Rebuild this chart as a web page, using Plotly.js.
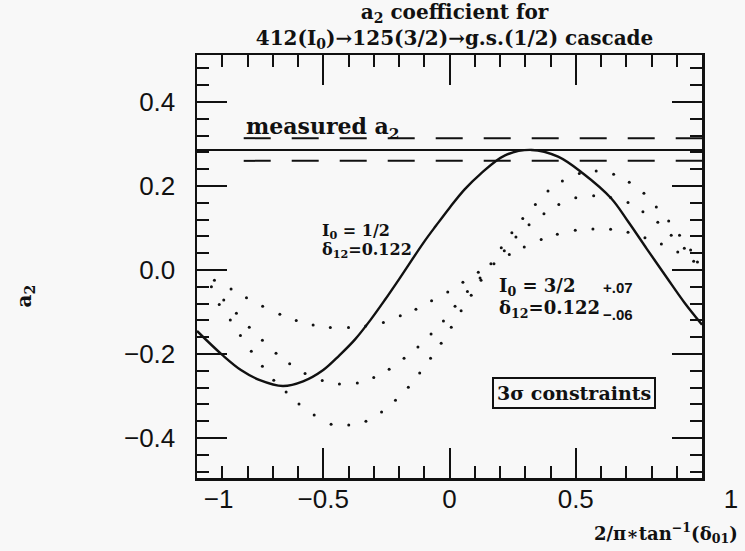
<!DOCTYPE html>
<html>
<head>
<meta charset="utf-8">
<script src="https://cdn.plot.ly/plotly-3.0.1.min.js"></script>
<style>body{margin:0;background:#f8f8f8}</style>
</head>
<body>
<div id="chart" style="width:745px;height:551px"></div>
<script>
// I0 = 1/2, delta12 = 0.122 (solid curve)
const solidX = [-1.0, -0.90, -0.826, -0.751, -0.66, -0.58, -0.50, -0.436, -0.374, -0.312, -0.257, -0.20, -0.102, -0.053, 0.0, 0.06, 0.121, 0.220, 0.325, 0.430, 0.529, 0.640, 0.708, 0.782, 0.863, 0.93, 1.0];
const solidY = [-0.145, -0.202, -0.238, -0.262, -0.276, -0.265, -0.238, -0.203, -0.165, -0.118, -0.072, -0.022, 0.066, 0.106, 0.148, 0.192, 0.228, 0.273, 0.286, 0.270, 0.230, 0.171, 0.115, 0.050, -0.020, -0.077, -0.130];

// I0 = 3/2, delta12 = 0.122 +.07 -.06 (dotted curves, one dot per point)
const dotAX = [-0.931, -0.865, -0.804, -0.740, -0.672, -0.607, -0.540, -0.472, -0.400, -0.332, -0.262, -0.195, -0.133, -0.071, -0.007, 0.053, 0.114, 0.176, 0.237, 0.296, 0.363, 0.427, 0.498, 0.568, 0.638, 0.707, 0.774, 0.839, 0.904, 0.967];
const dotAY = [-0.024, -0.045, -0.066, -0.086, -0.105, -0.120, -0.131, -0.137, -0.137, -0.133, -0.125, -0.109, -0.093, -0.073, -0.052, -0.029, -0.005, 0.015, 0.037, 0.055, 0.073, 0.085, 0.095, 0.098, 0.097, 0.090, 0.077, 0.062, 0.043, 0.021];

const dotBX = [-0.943, -0.894, -0.844, -0.793, -0.741, -0.687, -0.633, -0.572, -0.504, -0.436, -0.365, -0.300, -0.239, -0.180, -0.125, -0.073, -0.024, 0.022, 0.071, 0.121, 0.164, 0.217, 0.263, 0.315, 0.374, 0.433, 0.500, 0.571, 0.638, 0.707, 0.766, 0.825, 0.878, 0.930, 0.982];
const dotBY = [-0.040, -0.071, -0.103, -0.136, -0.167, -0.198, -0.223, -0.246, -0.263, -0.271, -0.269, -0.256, -0.236, -0.210, -0.183, -0.152, -0.121, -0.086, -0.051, -0.019, 0.015, 0.046, 0.079, 0.108, 0.134, 0.156, 0.172, 0.177, 0.173, 0.161, 0.139, 0.114, 0.083, 0.052, 0.019];

const dotCX = [-0.912, -0.868, -0.828, -0.785, -0.741, -0.696, -0.647, -0.596, -0.536, -0.469, -0.399, -0.331, -0.269, -0.214, -0.163, -0.118, -0.075, -0.033, 0.007, 0.046, 0.086, 0.125, 0.205, 0.247, 0.290, 0.340, 0.390, 0.447, 0.514, 0.581, 0.650, 0.712, 0.770, 0.819, 0.868, 0.911, 0.955];
const dotCY = [-0.082, -0.119, -0.156, -0.193, -0.229, -0.262, -0.290, -0.319, -0.345, -0.367, -0.369, -0.360, -0.338, -0.310, -0.279, -0.245, -0.210, -0.174, -0.136, -0.097, -0.060, -0.024, 0.053, 0.089, 0.123, 0.156, 0.188, 0.212, 0.230, 0.236, 0.228, 0.209, 0.183, 0.150, 0.117, 0.083, 0.048];

// measured a2 and its band
const measuredA2 = 0.286;
const bandUpper = 0.314;
const bandLower = 0.260;
const lineX = [-1, 1];
const bandX = [-0.815, 1];

const xTickVals = [-1, -0.5, 0, 0.5, 1];
const xTickText = ['\u2007\u2007\u2007−1', '−0.5', '0', '0.5', '\u2007\u2007\u2007\u20071'];
const yTickVals = [-0.4, -0.2, 0.0, 0.2, 0.4];

const serif = 'DejaVu Serif';
const ink = '#111';

const traces = [
  {x: solidX, y: solidY, mode: 'lines', line: {color: ink, width: 2.4, shape: 'spline', smoothing: 1}},
  {x: dotAX, y: dotAY, mode: 'markers', marker: {color: ink, size: 3}},
  {x: dotBX, y: dotBY, mode: 'markers', marker: {color: ink, size: 3}},
  {x: dotCX, y: dotCY, mode: 'markers', marker: {color: ink, size: 3}},
  {x: lineX, y: [measuredA2, measuredA2], mode: 'lines', line: {color: ink, width: 2}},
  {x: bandX, y: [bandUpper, bandUpper], mode: 'lines', line: {color: ink, width: 2, dash: '27px,21px'}},
  {x: bandX, y: [bandLower, bandLower], mode: 'lines', line: {color: ink, width: 2, dash: '27px,21px'}}
];

const axisCommon = {
  showline: true, linecolor: ink, linewidth: 2.5, mirror: 'allticks',
  ticks: 'inside', tickcolor: ink, tickwidth: 2, ticklen: 30,
  showgrid: false, zeroline: false,
  tickfont: {family: 'Liberation Sans', size: 26, color: ink}
};

const layout = {
  width: 745, height: 551,
  paper_bgcolor: '#f8f8f8', plot_bgcolor: '#f8f8f8',
  margin: {l: 197, r: 43, t: 55, b: 73},
  showlegend: false,
  title: {
    text: 'a<sub>2</sub> coefficient for<br>412(I<sub>0</sub>)→125(3/2)→g.s.(1/2) cascade',
    font: {family: serif, size: 20, color: ink, weight: 'bold'},
    x: 0.51, xref: 'paper', xanchor: 'center', y: 0.966, yanchor: 'middle', yref: 'container'
  },
  xaxis: Object.assign({}, axisCommon, {
    range: [-1, 1], tickvals: xTickVals, ticktext: xTickText,
    minor: {dtick: 0.1, ticks: 'inside', ticklen: 12, tickwidth: 2, tickcolor: ink, showgrid: false},
    ticklabelstandoff: -4
  }),
  yaxis: Object.assign({}, axisCommon, {
    range: [-0.495, 0.512], tickvals: yTickVals, tickformat: '.1f',
    minor: {dtick: 0.04, tick0: 0, ticks: 'inside', ticklen: 12, tickwidth: 2, tickcolor: ink, showgrid: false},
    ticklabelstandoff: 14
  }),
  annotations: [
    {xref: 'x', yref: 'y', x: -0.815, y: 0.338, xanchor: 'left', yanchor: 'middle', showarrow: false,
     text: 'measured a<sub>2</sub>', font: {family: serif, size: 22, color: ink, weight: 'bold'}},
    {xref: 'x', yref: 'y', x: -0.513, y: 0.092, xanchor: 'left', yanchor: 'middle', showarrow: false,
     text: 'I<sub>0</sub> = 1/2', font: {family: serif, size: 16, color: ink, weight: 'bold'}},
    {xref: 'x', yref: 'y', x: -0.513, y: 0.046, xanchor: 'left', yanchor: 'middle', showarrow: false,
     text: 'δ<sub>12</sub>=0.122', font: {family: serif, size: 16, color: ink, weight: 'bold'}},
    {xref: 'x', yref: 'y', x: 0.188, y: -0.040, xanchor: 'left', yanchor: 'middle', showarrow: false,
     text: 'I<sub>0</sub> = 3/2', font: {family: serif, size: 18, color: ink, weight: 'bold'}},
    {xref: 'x', yref: 'y', x: 0.188, y: -0.093, xanchor: 'left', yanchor: 'middle', showarrow: false,
     text: 'δ<sub>12</sub>=0.122', font: {family: serif, size: 18, color: ink, weight: 'bold'}},
    {xref: 'x', yref: 'y', x: 0.600, y: -0.042, xanchor: 'left', yanchor: 'middle', showarrow: false,
     text: '+.07', font: {family: 'Liberation Sans', size: 15, color: ink, weight: 'bold'}},
    {xref: 'x', yref: 'y', x: 0.600, y: -0.106, xanchor: 'left', yanchor: 'middle', showarrow: false,
     text: '−.06', font: {family: 'Liberation Sans', size: 15, color: ink, weight: 'bold'}},
    {xref: 'x', yref: 'y', x: 0.493, y: -0.293, xanchor: 'center', yanchor: 'middle', showarrow: false,
     text: '3σ constraints', font: {family: serif, size: 19, color: ink, weight: 'bold'},
     bordercolor: ink, borderwidth: 2, borderpad: 3, bgcolor: 'rgba(0,0,0,0)'},
    {xref: 'paper', yref: 'paper', x: -0.34, y: 0.43, xanchor: 'center', yanchor: 'middle', showarrow: false,
     textangle: -90, text: 'a<sub>2</sub>', font: {family: serif, size: 20, color: ink, weight: 'bold'}},
    {xref: 'paper', yref: 'paper', x: 1.075, y: -0.13, xanchor: 'right', yanchor: 'middle', showarrow: false,
     text: '2/π∗tan<sup>−1</sup>(δ<sub>01</sub>)', font: {family: serif, size: 18, color: ink, weight: 'bold'}}
  ]
};

Plotly.newPlot('chart', traces, layout, {staticPlot: true});
</script>
</body>
</html>
